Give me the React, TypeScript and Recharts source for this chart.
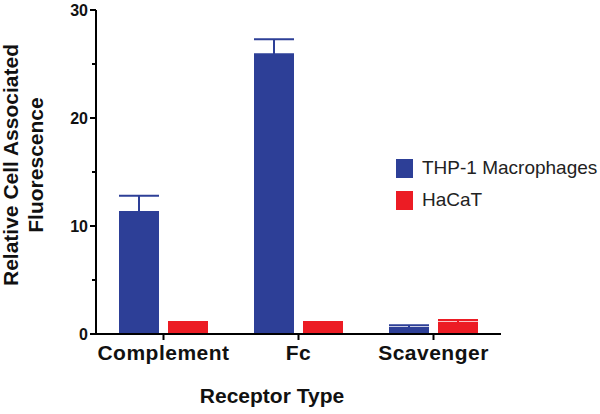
import { Bar, BarChart, ErrorBar, Legend, XAxis, YAxis } from "recharts";

const categories = ["Complement", "Fc", "Scavenger"];
const seriesNames = ["THP-1 Macrophages", "HaCaT"];
const thpValues = [11.3, 25.9, 0.55];
const thpErrors = [1.5, 1.4, 0.25];
const hacatValues = [1.0, 1.0, 1.05];
const hacatErrors = [0.1, 0.1, 0.25];
const yTicks = [0, 5, 10, 15, 20, 25, 30];

const BLUE = "#2D3F97";
const RED = "#EC1C24";
const FONT = "'Liberation Sans', Arial, sans-serif";

const data = categories.map((name, i) => ({
  name,
  thp: thpValues[i],
  thpErr: [0, thpErrors[i]],
  hacat: hacatValues[i],
  hacatErr: [0, hacatErrors[i]],
}));

function YTick(props: any) {
  const { x, y, payload } = props;
  const major = payload.value % 10 === 0;
  return (
    <g>
      <line x1={x + (major ? 2 : 4)} x2={x + 8} y1={y} y2={y} stroke="#000" strokeWidth={2} />
      {major && (
        <text
          x={x}
          y={y}
          dy="0.36em"
          textAnchor="end"
          fontFamily={FONT}
          fontWeight="bold"
          fontSize={16}
          fill="#111"
        >
          {payload.value}
        </text>
      )}
    </g>
  );
}

function YLabel() {
  const style = { fontFamily: FONT, fontWeight: "bold" as const, fontSize: 21, fill: "#111" };
  return (
    <g>
      <text transform="translate(18,165) rotate(-90)" textAnchor="middle" {...style}>
        Relative Cell Associated
      </text>
      <text transform="translate(43,165) rotate(-90)" textAnchor="middle" {...style}>
        Fluorescence
      </text>
    </g>
  );
}

function XLabel() {
  return (
    <text
      x={272}
      y={403}
      textAnchor="middle"
      fontFamily={FONT}
      fontWeight="bold"
      fontSize={21}
      fill="#111"
    >
      Receptor Type
    </text>
  );
}

function LegendBox({ payload }: any) {
  const items = [...(payload || [])].sort(
    (a: any, b: any) => seriesNames.indexOf(a.value) - seriesNames.indexOf(b.value)
  );
  return (
    <div style={{ fontFamily: FONT, fontSize: 19, color: "#222" }}>
      {items.map((p: any) => (
        <div key={p.value} style={{ display: "flex", alignItems: "center", height: 32 }}>
          <span style={{ width: 17, height: 19, background: p.color, marginRight: 9 }} />
          <span>{p.value}</span>
        </div>
      ))}
    </div>
  );
}

export default function App() {
  return (
    <div style={{ position: "absolute", left: 0, top: 0, background: "#fff" }}>
      <BarChart
        width={600}
        height={414}
        data={data}
        margin={{ top: 10, right: 99, left: 0, bottom: 0 }}
        barSize={40}
        barGap={9}
      >
        <XAxis
          dataKey="name"
          height={80}
          axisLine={{ stroke: "#000", strokeWidth: 2 }}
          tickLine={{ stroke: "#000", strokeWidth: 2 }}
          tickSize={6}
          tickMargin={5}
          tick={{ fontFamily: FONT, fontWeight: "bold", fontSize: 21, fill: "#111", letterSpacing: 0.5 }}
          label={<XLabel />}
        />
        <YAxis
          width={96}
          domain={[0, 30]}
          ticks={yTicks}
          interval={0}
          axisLine={{ stroke: "#000", strokeWidth: 2 }}
          tickLine={false}
          tickSize={6}
          tickMargin={2}
          tick={YTick}
          label={<YLabel />}
        />
        <Legend
          layout="vertical"
          align="center"
          verticalAlign="middle"
          wrapperStyle={{ left: 396, top: 152, width: 210 }}
          content={LegendBox}
        />
        <Bar dataKey="thp" name={seriesNames[0]} fill={BLUE} isAnimationActive={false}>
          <ErrorBar dataKey="thpErr" width={20} stroke={BLUE} strokeWidth={2} direction="y" />
        </Bar>
        <Bar dataKey="hacat" name={seriesNames[1]} fill={RED} isAnimationActive={false}>
          <ErrorBar dataKey="hacatErr" width={20} stroke={RED} strokeWidth={2} direction="y" />
        </Bar>
      </BarChart>
    </div>
  );
}
